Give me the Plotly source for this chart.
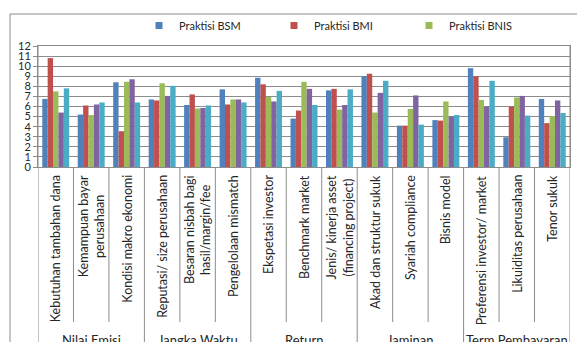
import plotly.graph_objects as go

# Faktor penentu (kategori) dan kelompoknya
categories = [
    "Kebutuhan tambahan dana",
    "Kemampuan bayar<br>perusahaan",
    "Kondisi makro ekonomi",
    "Reputasi/ size perusahaan",
    "Besaran nisbah bagi<br>hasil/margin/fee",
    "Pengelolaan mismatch",
    "Ekspetasi investor",
    "Benchmark market",
    "Jenis/ kinerja asset<br>(financing project)",
    "Akad dan struktur sukuk",
    "Syariah compliance",
    "Bisnis model",
    "Preferensi investor/ market",
    "Likuiditas perusahaan",
    "Tenor sukuk",
]
groups = ["Nilai Emisi", "Jangka Waktu", "Return", "Jaminan", "Term Pembayaran"]
group_size = 3

# Nilai tiap seri
bsm = [6.75, 5.2, 8.4, 6.7, 6.15, 7.7, 8.85, 4.8, 7.6, 9.0, 4.1, 4.65, 9.8, 2.95, 6.75]
bmi = [10.8, 6.1, 3.55, 6.6, 7.2, 6.2, 8.2, 5.6, 7.75, 9.25, 4.1, 4.6, 9.0, 6.0, 4.35]
bnis = [7.5, 5.15, 8.45, 8.3, 5.8, 6.7, 6.95, 8.45, 5.7, 5.4, 5.75, 6.5, 6.65, 6.9, 5.05]
seri4 = [5.4, 6.2, 8.7, 7.05, 5.85, 6.7, 6.5, 7.75, 6.15, 7.35, 7.1, 5.0, 6.0, 7.05, 6.6]
seri5 = [7.8, 6.4, 6.4, 8.05, 6.1, 6.4, 7.55, 6.15, 7.7, 8.55, 4.2, 5.15, 8.55, 5.1, 5.35]

series = [
    ("Praktisi BSM", bsm, "#4F81BD", True),
    ("Praktisi BMI", bmi, "#C0504D", True),
    ("Praktisi BNIS", bnis, "#9BBB59", True),
    ("Seri 4", seri4, "#8064A2", False),
    ("Seri 5", seri5, "#4BACC6", False),
]

FONT = "Lato"
TXT = "#262626"
LINE = "#8C8C8C"

W, H = 577, 342
ML, MR, MT, MB = 38, 7, 46, 175
plot_h = H - MT - MB
plot_w = W - ML - MR


def py(px):
    """Convert a pixel row (from top of page) to paper y."""
    return (H - MB - px) / plot_h


def pxx(px):
    """Convert a pixel column (from left of page) to paper x."""
    return (px - ML) / plot_w


fig = go.Figure()
x_idx = list(range(len(categories)))
for name, vals, color, _ in series:
    fig.add_trace(go.Bar(x=x_idx, y=vals, name=name, marker_color=color,
                         marker_line_width=0, showlegend=False))

# Legend entries with small square swatches
for name, vals, color, show in series:
    if show:
        fig.add_trace(go.Scatter(x=[None], y=[None], mode="markers", name=name,
                                 marker=dict(symbol="square", size=7, color=color)))

shapes = []
n = len(categories)
# Separators between categories
for i in range(n - 1):
    is_group = (i + 1) % group_size == 0
    shapes.append(dict(type="line", xref="x", yref="paper", x0=i + 0.5, x1=i + 0.5,
                       y0=0, y1=py(345) if is_group else py(322),
                       line=dict(color=LINE, width=1)))
# Left and right edges extended down
for xv in (-0.5, n - 0.5):
    shapes.append(dict(type="line", xref="x", yref="paper", x0=xv, x1=xv,
                       y0=py(345), y1=1, line=dict(color=LINE, width=1)))
# Chart-area border
shapes.append(dict(type="rect", xref="paper", yref="paper",
                   x0=pxx(10), x1=pxx(590), y0=py(360), y1=py(14),
                   line=dict(color=LINE, width=1)))

annotations = []
for i, c in enumerate(categories):
    annotations.append(dict(x=i, y=py(173), xref="x", yref="paper", text=c,
                            textangle=-90, showarrow=False, xanchor="center",
                            yanchor="top", align="center",
                            font=dict(family=FONT, size=12.5, color=TXT)))
for g, name in enumerate(groups):
    annotations.append(dict(x=g * group_size + (group_size - 1) / 2, y=py(330),
                            xref="x", yref="paper", text=name, showarrow=False,
                            xanchor="center", yanchor="top",
                            font=dict(family=FONT, size=13, color=TXT)))

fig.update_layout(
    width=W, height=H,
    margin=dict(l=ML, r=MR, t=MT, b=MB),
    paper_bgcolor="white", plot_bgcolor="white",
    barmode="group", bargap=0.24, bargroupgap=0,
    font=dict(family=FONT, color=TXT),
    shapes=shapes, annotations=annotations,
    legend=dict(orientation="h", x=pxx(139), xanchor="left",
                y=py(11), yanchor="top", font=dict(family=FONT, size=11, color=TXT),
                itemwidth=30, entrywidth=90, bgcolor="rgba(0,0,0,0)"),
    xaxis=dict(range=[-0.5, n - 0.5], showticklabels=False, showgrid=False,
               zeroline=False, showline=True, linecolor=LINE, linewidth=1,
               mirror=True, ticks=""),
    yaxis=dict(range=[0, 12], dtick=1, tick0=0, showgrid=True, gridcolor=LINE,
               gridwidth=1, zeroline=False, showline=True, linecolor=LINE,
               linewidth=1, mirror=True, ticks="outside", ticklen=4,
               tickcolor=LINE, tickfont=dict(family=FONT, size=11, color=TXT)),
)

fig.write_html("out.html")
